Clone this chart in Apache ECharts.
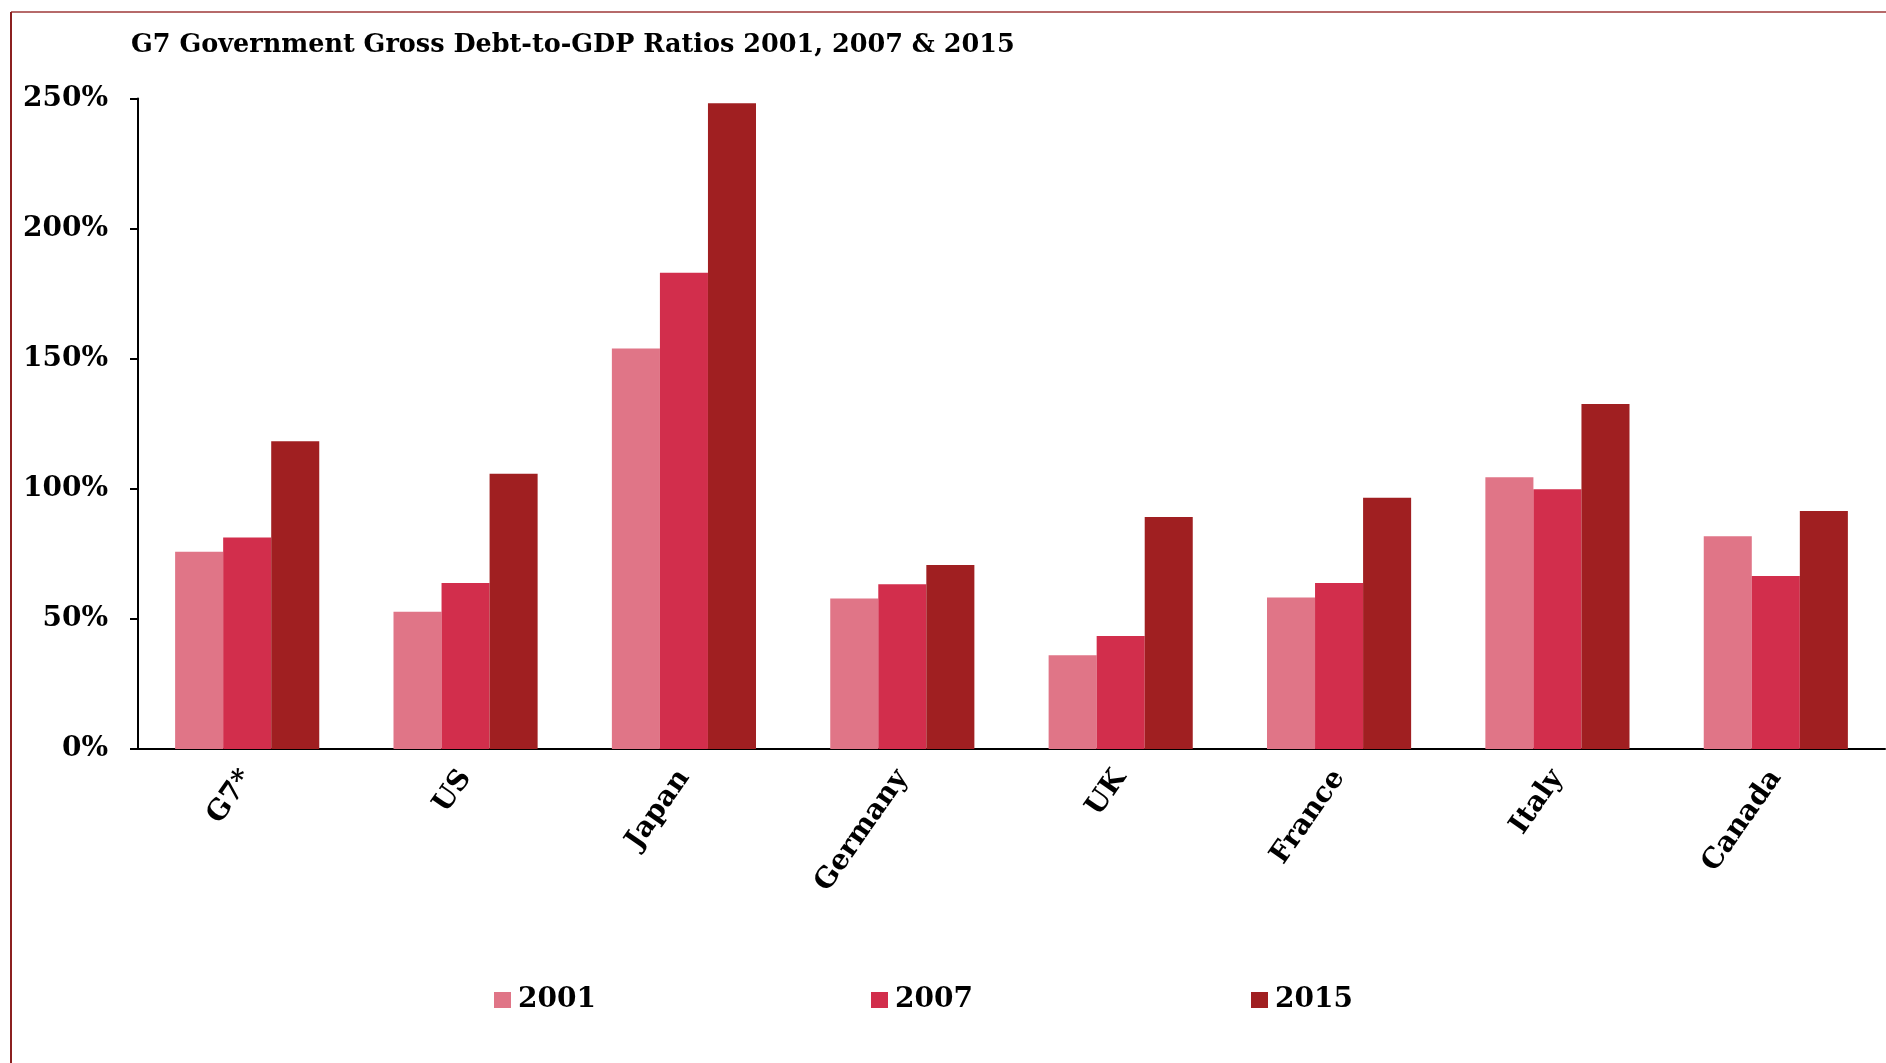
<!DOCTYPE html>
<html>
<head>
<meta charset="utf-8">
<script src="https://cdn.jsdelivr.net/npm/echarts@6/dist/echarts.min.js"></script>
<style>
  html, body { margin: 0; padding: 0; background: #ffffff; }
  #chart { width: 1886px; height: 1063px; }
</style>
</head>
<body>
<div id="chart"></div>
<script>
// G7 gross government debt as % of GDP
const countries = ['G7*', 'US', 'Japan', 'Germany', 'UK', 'France', 'Italy', 'Canada'];
const debt2001 = [75.8, 52.7, 153.9, 57.8, 36.0, 58.2, 104.4, 81.8];
const debt2007 = [81.3, 63.8, 183.0, 63.3, 43.4, 63.8, 99.8, 66.5];
const debt2015 = [118.3, 105.8, 248.2, 70.7, 89.2, 96.6, 132.6, 91.5];
const yearNames = ['2001', '2007', '2015'];
const yearColors = ['#e07587', '#d22e4c', '#a01f21'];

const chart = echarts.init(document.getElementById('chart'));

const serifBold = '"DejaVu Serif", Georgia, serif';

function legendFor(i, left) {
  return {
    data: [yearNames[i]],
    left: left,
    top: 986,
    padding: 0,
    itemWidth: 17,
    itemHeight: 16,
    itemGap: 0,
    icon: 'rect',
    textStyle: { fontFamily: serifBold, fontWeight: 'bold', fontSize: 28, color: '#000', padding: [0, 0, 0, 2] }
  };
}

chart.setOption({
  animation: false,
  backgroundColor: '#ffffff',
  color: yearColors,
  title: {
    text: 'G7 Government Gross Debt-to-GDP Ratios 2001, 2007 & 2015',
    left: 126,
    top: 27,
    textStyle: { fontFamily: serifBold, fontWeight: 'bold', fontSize: 25.5, color: '#000' }
  },
  legend: [legendFor(0, 494), legendFor(1, 871), legendFor(2, 1251)],
  graphic: [
    { type: 'line', shape: { x1: 11, y1: 12, x2: 1886, y2: 12 }, style: { stroke: '#b66a6a', lineWidth: 2 } },
    { type: 'line', shape: { x1: 11, y1: 12, x2: 11, y2: 1063 }, style: { stroke: '#8c2020', lineWidth: 2 } }
  ],
  grid: { left: 138, right: 1, top: 98.5, bottom: 314, containLabel: false },
  xAxis: {
    type: 'category',
    data: countries,
    axisLine: { lineStyle: { color: '#000', width: 2 } },
    axisTick: { show: true, inside: true, alignWithLabel: true, length: 6, lineStyle: { color: '#000', width: 2 } },
    axisLabel: {
      rotate: 55,
      margin: 24,
      fontFamily: serifBold,
      fontWeight: 'bold',
      fontSize: 28,
      color: '#000'
    }
  },
  yAxis: {
    type: 'value',
    min: 0,
    max: 250,
    interval: 50,
    splitLine: { show: false },
    axisLine: { show: true, lineStyle: { color: '#000', width: 2 } },
    axisTick: { show: true, length: 8, lineStyle: { color: '#000', width: 2 } },
    axisLabel: {
      formatter: '{value}%',
      margin: 30,
      padding: [4, 0, 0, 0],
      fontFamily: serifBold,
      fontWeight: 'bold',
      fontSize: 28,
      color: '#000'
    }
  },
  series: [
    { name: yearNames[0], type: 'bar', data: debt2001, barGap: '0%', barCategoryGap: '34%', itemStyle: { color: yearColors[0] } },
    { name: yearNames[1], type: 'bar', data: debt2007, barGap: '0%', barCategoryGap: '34%', itemStyle: { color: yearColors[1] } },
    { name: yearNames[2], type: 'bar', data: debt2015, barGap: '0%', barCategoryGap: '34%', itemStyle: { color: yearColors[2] } }
  ]
});
</script>
</body>
</html>
